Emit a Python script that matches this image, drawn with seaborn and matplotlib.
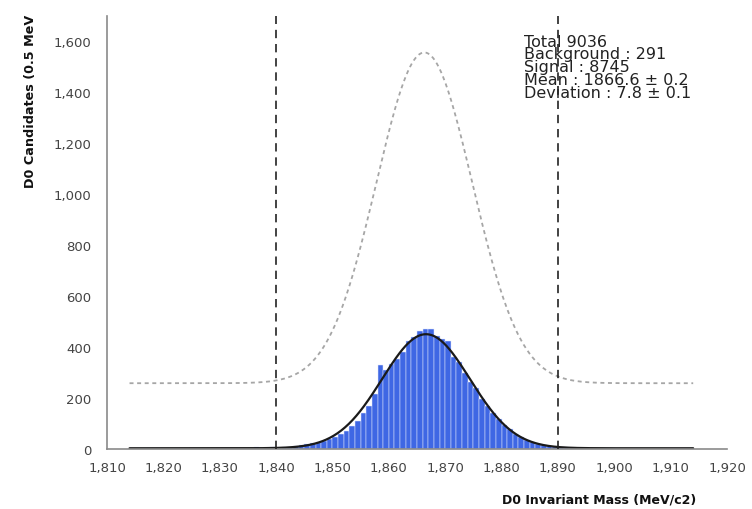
import numpy as np
import pandas as pd
import matplotlib
matplotlib.use("Agg")
import matplotlib.pyplot as plt
import seaborn as sns
from matplotlib.ticker import FuncFormatter, FixedLocator

# ---------------- data ----------------
BIN_START = 1814          # left edge of the first 1 MeV bin
BIN_WIDTH = 1.0
counts_left_tail = [3, 2, 4, 3, 2, 3, 4, 2, 3, 3, 4, 2, 3, 5, 3, 4, 3, 2, 4, 5, 3, 4, 6, 4, 5, 6]
counts_core = [5, 7, 8, 10, 14, 18, 22, 26, 30, 38, 46, 58, 72, 92, 110, 140, 168, 215, 330, 310,
               335, 352, 380, 425, 440, 462, 470, 472, 445, 430, 425, 362, 340, 300, 262, 240, 195,
               168, 140, 118, 95, 80, 60, 46, 35, 27, 20, 15, 11, 8, 7, 6, 5]
counts_right_tail = [4, 3, 4, 3, 2, 3, 4, 2, 3, 3, 2, 4, 3, 2, 3, 3, 2, 3, 4, 2, 3]

# fit results shown in the chart
TOTAL = 9036
BACKGROUND = 291
SIGNAL = 8745
MEAN, MEAN_ERR = 1866.6, 0.2
SIGMA, SIGMA_ERR = 7.8, 0.1

# dashed reference curve
REF_BASE = 258
REF_PEAK = 1555
REF_MEAN = 1866.3
REF_SIGMA = 8.5

CUT_LOW, CUT_HIGH = 1840, 1890
X_TICKS = list(range(1810, 1921, 10))
Y_TICKS = list(range(0, 1601, 200))
X_LIM = (1810, 1920)
Y_LIM = (0, 1700)

stat_lines = [
    f"Total {TOTAL}",
    f"Background : {BACKGROUND}",
    f"Signal : {SIGNAL}",
    f"Mean : {MEAN} \u00b1 {MEAN_ERR}",
    f"Deviation : {SIGMA} \u00b1 {SIGMA_ERR}",
]

# ---------------- build ----------------
counts = counts_left_tail + counts_core + counts_right_tail
n_bins = len(counts)
centers = BIN_START + BIN_WIDTH * (np.arange(n_bins) + 0.5)
df = pd.DataFrame({"mass": centers, "n": np.asarray(counts, dtype=float)})
bin_range = (BIN_START, BIN_START + n_bins * BIN_WIDTH)

xs = np.linspace(bin_range[0], bin_range[1], 600)
bg_per_bin = BACKGROUND / n_bins
amp = SIGNAL * BIN_WIDTH / (SIGMA * np.sqrt(2 * np.pi))
fit = bg_per_bin + amp * np.exp(-0.5 * ((xs - MEAN) / SIGMA) ** 2)
ref = REF_BASE + (REF_PEAK - REF_BASE) * np.exp(-0.5 * ((xs - REF_MEAN) / REF_SIGMA) ** 2)
curves = pd.DataFrame({"mass": xs, "fit": fit, "ref": ref})

sns.set_style("white")
plt.rcParams["font.family"] = ["DejaVu Sans"]

fig = plt.figure(figsize=(7.52, 5.10), dpi=100)
ax = fig.add_axes([107 / 752, 60 / 510, 620 / 752, 433.5 / 510])

sns.histplot(data=df, x="mass", weights="n", binwidth=BIN_WIDTH, binrange=bin_range, ax=ax,
             color="#3f67e4", alpha=1.0, edgecolor="#dfe6fb", linewidth=0.35,
             shrink=1.0, element="bars")

sns.lineplot(data=curves, x="mass", y="ref", ax=ax, color="#a6a6a6", linewidth=1.3)
ax.lines[-1].set_dashes((2.2, 2.0))
sns.lineplot(data=curves, x="mass", y="fit", ax=ax, color="#1a1a1a", linewidth=1.6)

for c in (CUT_LOW, CUT_HIGH):
    ax.axvline(c, color="#222222", linewidth=1.2, dashes=(5, 3.5), zorder=4)

ax.set_xlim(*X_LIM)
ax.set_ylim(*Y_LIM)
ax.xaxis.set_major_locator(FixedLocator(X_TICKS))
ax.yaxis.set_major_locator(FixedLocator(Y_TICKS))
ax.yaxis.set_minor_locator(FixedLocator([Y_LIM[1]]))
fmt = FuncFormatter(lambda v, p: f"{int(round(v)):,}")
ax.xaxis.set_major_formatter(fmt)
ax.yaxis.set_major_formatter(fmt)

for s in ("top", "right"):
    ax.spines[s].set_visible(False)
for s in ("left", "bottom"):
    ax.spines[s].set_color("#8a8a8a")
    ax.spines[s].set_linewidth(1.2)
ax.tick_params(axis="both", which="both", direction="out", length=5, width=1.1,
               color="#8a8a8a", labelsize=9.5, labelcolor="#444444")
ax.tick_params(axis="x", pad=4)
ax.tick_params(axis="y", pad=6)
ax.set_xlabel("")
ax.set_ylabel("")

fig.text(31 / 752, 1 - 15 / 510, "D0 Candidates (0.5 MeV", rotation=90,
         ha="center", va="top", fontsize=9.2, fontweight="bold", color="#111111")
ax.text(1914.6, -0.1, "D0 Invariant Mass (MeV/c2)", transform=ax.get_xaxis_transform(),
        ha="right", va="top", fontsize=9.0, fontweight="bold", color="#111111")

line_step = 50
for i, line in enumerate(stat_lines):
    ax.text(1884, 1582 - i * line_step, line, ha="left", va="baseline",
            fontsize=11.5, color="#222222", zorder=3)

fig.savefig("out.png", dpi=100)
